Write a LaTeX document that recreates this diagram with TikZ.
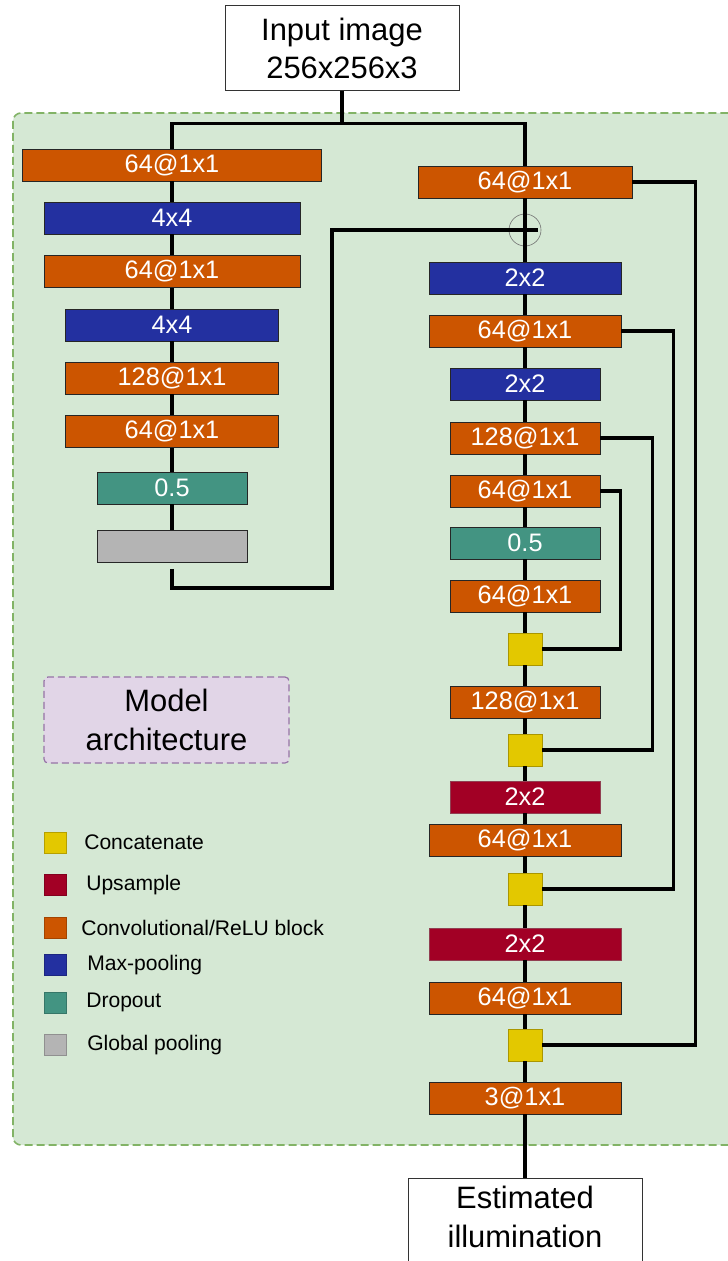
\documentclass[tikz,border=0pt]{standalone}
\usepackage{fontspec}
\setmainfont{Liberation Sans}
\usetikzlibrary{positioning, calc}
\definecolor{ConvOrange}{RGB}{204, 85, 0}
\definecolor{PoolBlue}{RGB}{35, 48, 160}
\definecolor{DropTeal}{RGB}{67, 148, 130}
\definecolor{UpRed}{RGB}{162, 0, 37}
\definecolor{CatYellow}{RGB}{227, 200, 0}
\definecolor{GlobGray}{RGB}{180, 180, 180}
\definecolor{PanelGreen}{RGB}{213, 232, 212}
\definecolor{PanelBorder}{RGB}{130, 179, 102}
\definecolor{NoteLilac}{RGB}{225, 213, 231}
\definecolor{NoteBorder}{RGB}{150, 115, 166}

\begin{document}
\begin{tikzpicture}[x=0.25mm, y=-0.25mm,
  blk/.style={draw=black!85, line width=0.2mm, minimum height=8mm, inner sep=0pt,
    text=white, font=\fontsize{18}{20}\selectfont},
  conv/.style={blk, fill=ConvOrange},
  pool/.style={blk, fill=PoolBlue},
  drop/.style={blk, fill=DropTeal},
  upsm/.style={blk, fill=UpRed, draw=UpRed!50!gray},
  glob/.style={blk, fill=GlobGray},
  cat/.style={draw=CatYellow!75!black, line width=0.2mm, fill=CatYellow,
    minimum width=8.5mm, minimum height=8mm, inner sep=0pt},
  wire/.style={line width=0.8mm},
  io/.style={draw=black!80, line width=0.25mm, fill=white, align=center,
    minimum width=58.5mm, font=\fontsize{22}{27.5}\selectfont}]
  \useasboundingbox (0,0) rectangle (728,1261);

  % Panel
  \draw[PanelBorder, fill=PanelGreen, line width=0.4mm, dash pattern=on 2mm off 1mm,
    rounded corners=2mm] (13,113) rectangle (770,1145);

  % Input
  \node[io, minimum height=21.25mm] (input) at (342,48.5) {Input image\\256x256x3};
  \coordinate[below=8mm of input] (split);

  % Left branch
  \node[conv, minimum width=74.75mm] (l1) at (172,165) {64@1x1};
  \node[pool, minimum width=64mm] (l2) at (172,218) {4x4};
  \node[conv, minimum width=64mm] (l3) at (172,271.5) {64@1x1};
  \node[pool, minimum width=53.25mm] (l4) at (172,325) {4x4};
  \node[conv, minimum width=53.25mm] (l5) at (172,378) {128@1x1};
  \node[conv, minimum width=53.25mm] (l6) at (172,431.5) {64@1x1};
  \node[drop, minimum width=37.5mm] (l7) at (172,488) {0.5};
  \node[glob, minimum width=37.5mm] (l8) at (172,546.5) {};
  \foreach \a/\b in {l1/l2, l2/l3, l3/l4, l4/l5, l5/l6, l6/l7, l7/l8}
    \draw[wire] (\a) -- (\b);

  % Right branch
  \node[conv, minimum width=53.5mm] (r1) at (525,182) {64@1x1};
  \node[circle, draw=black!55, line width=0.15mm, minimum size=8mm, inner sep=0pt] (sum) at (525,230) {};
  \node[pool, minimum width=48mm] (r2) at (525,278) {2x2};
  \node[conv, minimum width=48mm] (r3) at (525,331) {64@1x1};
  \node[pool, minimum width=37.5mm] (r4) at (525,384) {2x2};
  \node[conv, minimum width=37.5mm] (r5) at (525,438) {128@1x1};
  \node[conv, minimum width=37.5mm] (r6) at (525,491) {64@1x1};
  \node[drop, minimum width=37.5mm] (r7) at (525,543) {0.5};
  \node[conv, minimum width=37.5mm] (r8) at (525,596) {64@1x1};
  \node[cat] (c1) at (525,649) {};
  \node[conv, minimum width=37.5mm] (r9) at (525,702) {128@1x1};
  \node[cat] (c2) at (525,750) {};
  \node[upsm, minimum width=37.5mm] (r10) at (525,797) {2x2};
  \node[conv, minimum width=48mm] (r11) at (525,840) {64@1x1};
  \node[cat] (c3) at (525,889) {};
  \node[upsm, minimum width=48mm] (r12) at (525,944) {2x2};
  \node[conv, minimum width=48mm] (r13) at (525,998) {64@1x1};
  \node[cat] (c4) at (525,1045) {};
  \node[conv, minimum width=48mm] (r14) at (525,1098) {3@1x1};

  % Output
  \node[io, anchor=north, minimum height=24mm, text depth=5mm] (output) at (525,1178) {Estimated\\illumination};

  % Wires
  \draw[wire] (input) -- (split);
  \draw[wire] (l1.north) |- (split) -| (r1.north);
  \draw[wire] (r1) -- (r2);
  \draw[line width=1mm] (sum.center) +(0,-13) -- +(0,13) +(-13,0) -- +(13,0);
  \foreach \a/\b in {r2/r3, r3/r4, r4/r5, r5/r6, r6/r7, r7/r8, r8/c1, c1/r9, r9/c2,
    c2/r10, r10/r11, r11/c3, c3/r12, r12/r13, r13/c4, c4/r14, r14/output}
    \draw[wire] (\a) -- (\b);
  \draw[wire] ([yshift=-1.5mm]l8.south) |- (332,588) |- ([xshift=3.25mm]sum.center);
  \draw[wire] (r1.east) -- ++(63,0) |- (c4.east);
  \draw[wire] (r3.east) -- ++(52,0) |- (c3.east);
  \draw[wire] (r5.east) -- ++(52,0) |- (c2.east);
  \draw[wire] (r6.east) -- ++(20,0) |- (c1.east);

  % Note
  \node[draw=NoteBorder, fill=NoteLilac, line width=0.3mm, dash pattern=on 1.75mm off 1mm,
    rounded corners=1mm, minimum width=61.25mm, minimum height=21.5mm, align=center,
    font=\fontsize{22}{27.7}\selectfont] (note) at (166.5,720) {Model\\architecture};

  % Legend
  \foreach \ky/\col/\tx/\txt [count=\i] in {842.5/CatYellow/84/Concatenate, 885/UpRed/86/Upsample,
      927.5/ConvOrange/81/{Convolutional/ReLU block}, 965/PoolBlue/87/Max-pooling,
      1002.5/DropTeal/86/Dropout, 1045/GlobGray/87/Global pooling} {
    \node[draw=\col!80!black, line width=0.15mm, fill=\col, minimum width=5.5mm,
      minimum height=5.25mm, inner sep=0pt] (key\i) at (55,\ky) {};
    \node[anchor=west, inner sep=0pt, font=\fontsize{15}{18}\selectfont] (keytxt\i) at (\tx,\ky) {\txt};
  }
\end{tikzpicture}
\end{document}
